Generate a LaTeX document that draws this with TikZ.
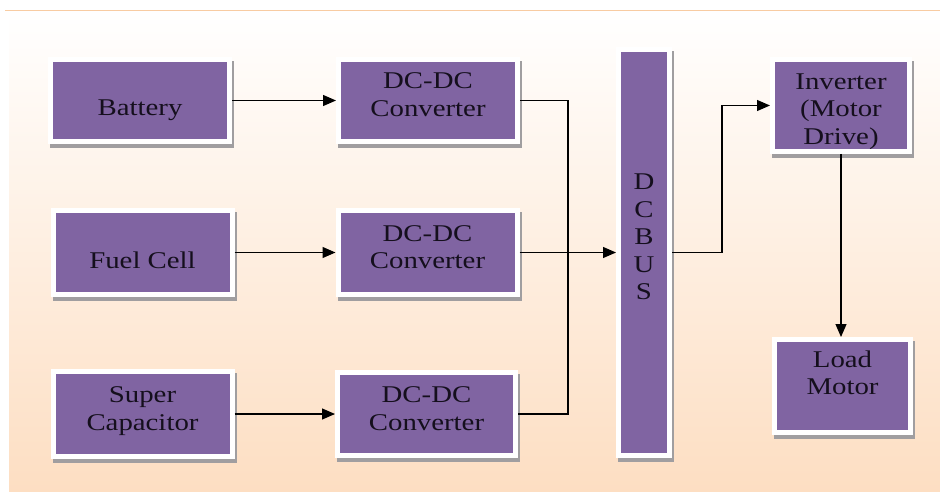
\documentclass[tikz,border=0pt]{standalone}
\usepackage{fontspec}
\setmainfont{Liberation Serif}[FakeStretch=1.2]
\usetikzlibrary{arrows.meta,shadows}
\definecolor{boxpurple}{HTML}{8064A2}
\definecolor{textdark}{HTML}{150F1D}
\definecolor{peach}{RGB}{253,222,194}
\definecolor{rulepeach}{RGB}{248,204,162}
\definecolor{shadowgrey}{RGB}{160,158,160}
\tikzset{
  unit/.style={draw=white, line width=5pt, fill=boxpurple, text=textdark,
    align=center, inner sep=0pt, minimum width=179pt, minimum height=82pt,
    font=\fontsize{24}{27.5}\selectfont,
    drop shadow={shadow xshift=2pt, shadow yshift=-4pt, opacity=1,
      fill=shadowgrey, draw=shadowgrey, line width=5pt}},
  textpos/.style={text height=#1, text depth=0pt},
  wire/.style={line width=1.2pt, black},
  feed/.style={wire, -{Triangle[length=13pt,width=11pt]}}
}
\begin{document}
\begin{tikzpicture}[x=1pt,y=-1pt]
        \useasboundingbox (0,0) rectangle (940,492);
        % slide background
        \shade[top color=white, bottom color=peach] (9,12) rectangle (940,492);
        \draw[rulepeach, line width=1.5pt] (5,10.5) -- (940,10.5);
        % sources
        \node[unit, textpos=31pt] (bat) at (140,100.5) {Battery};
        \node[unit, textpos=31pt, minimum height=84pt] (fuel) at (142.5,252.5) {Fuel Cell};
        \node[unit, textpos=32pt, minimum height=85pt] (cap) at (142.5,414) {Super\\Capacitor};
        % converters
        \node[unit, textpos=32pt] (conv1) at (428,100.5) {DC-DC\\Converter};
        \node[unit, textpos=32pt, minimum height=84pt] (conv2) at (427.5,252.5) {DC-DC\\Converter};
        \node[unit, textpos=32pt, minimum width=178pt, minimum height=83pt] (conv3) at (426.5,414) {DC-DC\\Converter};
        % bus, drive and load
        \node[unit, textpos=94pt, minimum width=51pt, minimum height=406pt] (bus) at (644,252.5) {D\\C\\B\\U\\S};
        \node[unit, textpos=78pt, minimum width=137pt, minimum height=92pt] (inv) at (841,105.5) {Inverter\\(Motor\\Drive)};
        \node[unit, textpos=17.6pt, minimum width=136pt, minimum height=93pt] (load) at (842.5,386) {Load\\Motor};
        \coordinate (join) at (568,252.5);
        \coordinate (bend) at (722,252.5);
        % connections
        \draw[feed] (bat) -- (conv1);
        \draw[feed] (fuel) -- (conv2);
        \draw[feed] (cap) -- (conv3);
        \draw[wire] (conv1.east) -| (join);
        \draw[wire] (conv3.east) -| (join);
        \draw[feed] (conv2) -- (bus);
        \draw[feed] (bus.east) -- (bend) |- (inv.west);
        \draw[feed] (inv.south) -- (inv.south |- load.north);
\end{tikzpicture}
\end{document}
